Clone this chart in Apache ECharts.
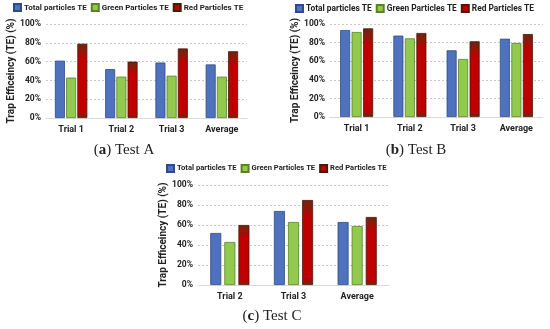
<!DOCTYPE html>
<html><head><meta charset="utf-8">
<script src="https://cdn.jsdelivr.net/npm/echarts@6/dist/echarts.min.js"></script>
<style>html,body{margin:0;padding:0;background:#fff}#c{width:550px;height:329px}</style>
</head><body><div id="c"></div>
<script>
const seriesNames = ['Total particles TE', 'Green Particles TE', 'Red Particles TE'];
const catsA = ['Trial 1', 'Trial 2', 'Trial 3', 'Average'];
const totalA = [61, 52, 59, 57];
const greenA = [43, 44, 45, 44];
const redA = [79, 60, 74, 71];
const catsB = ['Trial 1', 'Trial 2', 'Trial 3', 'Average'];
const totalB = [93.5, 87.5, 71.7, 84.2];
const greenB = [91.4, 84.6, 62.4, 79.6];
const redB = [95.3, 90.3, 81.4, 89.2];
const catsC = ['Trial 2', 'Trial 3', 'Average'];
const totalC = [52, 74, 63];
const greenC = [43, 63, 59];
const redC = [60, 85, 68];
const captions = ['a', 'b', 'c'];
const yTicks = [0, 20, 40, 60, 80, 100];

const FONT = 'Roboto';
const blue = '#4F72BE', green = '#92C94F';
const redGrad = new echarts.graphic.LinearGradient(0, 0, 0, 1, [
  {offset: 0, color: '#6e2410'}, {offset: 0.08, color: '#8a1a0a'},
  {offset: 0.2, color: '#c00000'}, {offset: 0.92, color: '#c00000'},
  {offset: 1, color: '#6e2410'}]);
const colors = [blue, green, redGrad];
const borders = ['#2f4b85', '#5d7f2c', '#4a1a08'];

const grids = [
  {left: 46, right: 303, top: 24, bottom: 211},
  {left: 330, right: 7, top: 24, bottom: 212},
  {left: 198, right: 161, top: 185, bottom: 44}
];
const cats = [catsA, catsB, catsC];
const data = [[totalA, greenA, redA], [totalB, greenB, redB], [totalC, greenC, redC]];
const barW = [10, 10, 11];
const gaps = ['12%', '15%', '28%'];

const xAxes = cats.map((c, i) => ({
  type: 'category', gridIndex: i, data: c,
  axisTick: {show: false},
  axisLine: {lineStyle: {color: '#d9d9d9'}},
  axisLabel: {fontFamily: FONT, fontWeight: 'bold', fontSize: 9, color: '#222', margin: 7}
}));
const yAxes = cats.map((c, i) => ({
  type: 'value', gridIndex: i, min: yTicks[0], max: yTicks[yTicks.length - 1], interval: 20,
  name: 'Trap Efficeincy (TE) (%)', nameLocation: 'middle', nameGap: 29,
  nameTextStyle: {fontFamily: FONT, fontWeight: 'bold', fontSize: 10, color: '#222'},
  axisLine: {show: false}, axisTick: {show: false},
  axisLabel: {formatter: '{value}%', fontFamily: FONT, fontWeight: 'bold', fontSize: 8.5, color: '#222', margin: 5},
  splitLine: {lineStyle: {color: '#c8c8c8', type: [2, 2]}}
}));
const series = [];
data.forEach((grp, gi) => {
  grp.forEach((vals, si) => {
    series.push({
      type: 'bar', name: seriesNames[si], xAxisIndex: gi, yAxisIndex: gi,
      data: vals, barWidth: barW[gi], barGap: gaps[gi],
      itemStyle: {color: colors[si], borderColor: borders[si], borderWidth: 0.8},
      emphasis: {disabled: true}
    });
  });
});
const legendPos = [{left: 13, top: 3, fs: 8}, {left: 295, top: 4, fs: 8.4}, {left: 166, top: 164, fs: 7.6}];
const legends = legendPos.map(p => ({
  left: p.left, top: p.top, width: 300, data: seriesNames, itemWidth: 7, itemHeight: 7, itemGap: 4,
  icon: 'rect', selectedMode: false, padding: 0,
  textStyle: {fontFamily: FONT, fontWeight: 'bold', fontSize: p.fs, color: '#222', padding: [0, 0, 0, -2]}
}));
const capPos = [[124, 150], [416, 150], [272, 316]];
const graphic = capPos.map((p, i) => ({
  type: 'text', x: p[0], y: p[1],
  style: {
    text: '({b|' + captions[i] + '}) Test ' + String.fromCharCode(65 + i),
    fontFamily: 'Liberation Serif', fontSize: 15, fill: '#222',
    align: 'center', verticalAlign: 'middle',
    rich: {b: {fontFamily: 'Liberation Serif', fontSize: 15, fontWeight: 'bold', fill: '#222'}}
  }
}));

const chart = echarts.init(document.getElementById('c'), null, {renderer: 'canvas'});
chart.setOption({
  animation: false, color: colors,
  grid: grids, xAxis: xAxes, yAxis: yAxes, series: series,
  legend: legends, graphic: graphic
});
</script></body></html>
